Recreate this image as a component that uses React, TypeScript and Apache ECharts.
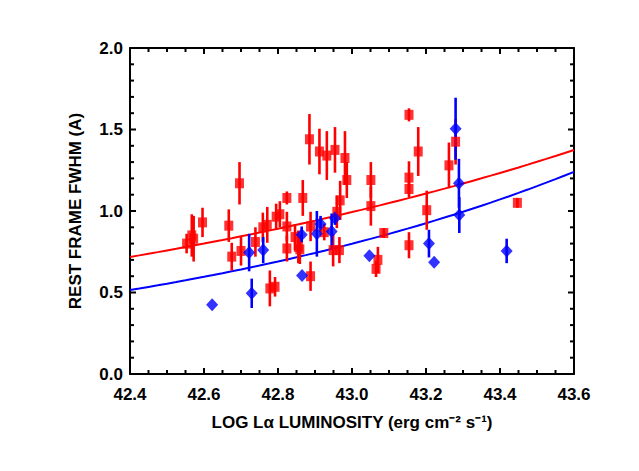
import React, { useEffect, useRef } from "react";
import * as echarts from "echarts";

// Red sample (squares): log L, FWHM, error
const redX = [42.553, 42.567, 42.572, 42.596, 42.667, 42.696, 42.675, 42.700, 42.739, 42.759, 42.771, 42.795, 42.805, 42.824, 42.824, 42.824, 42.778, 42.792, 42.846, 42.855, 42.859, 42.885, 42.912, 42.932, 42.954, 42.981, 42.986, 42.867, 42.968, 42.959, 42.888, 42.925, 42.949, 42.966, 42.888, 43.051, 43.051, 43.086, 43.070, 43.065, 43.154, 43.179, 43.154, 43.154, 43.202, 43.154, 43.262, 43.280, 43.447];
const redY = [0.80, 0.85, 0.83, 0.93, 0.91, 1.17, 0.72, 0.755, 0.81, 0.90, 0.915, 0.965, 0.98, 1.08, 0.905, 0.77, 0.525, 0.535, 0.84, 0.78, 0.765, 1.44, 1.365, 1.34, 1.375, 1.325, 1.19, 1.08, 1.065, 0.995, 0.905, 0.87, 0.76, 0.76, 0.60, 1.19, 1.03, 0.865, 0.70, 0.645, 1.59, 1.365, 1.205, 1.135, 1.005, 0.79, 1.28, 1.425, 1.05];
const redErr = [0.06, 0.13, 0.14, 0.09, 0.10, 0.13, 0.085, 0.09, 0.09, 0.09, 0.11, 0.08, 0.08, 0.04, 0.09, 0.08, 0.11, 0.06, 0.08, 0.10, 0.09, 0.155, 0.14, 0.15, 0.14, 0.165, 0.11, 0.11, 0.12, 0.10, 0.09, 0.05, 0.10, 0.08, 0.09, 0.11, 0.12, 0.03, 0.08, 0.05, 0.04, 0.15, 0.10, 0.05, 0.12, 0.08, 0.14, 0.14, 0.03];

// Blue sample (diamonds)
const blueX = [42.622, 42.722, 42.760, 42.729, 42.864, 42.865, 42.905, 42.915, 42.945, 42.954, 43.047, 43.208, 43.222, 43.280, 43.289, 43.290, 43.418];
const blueY = [0.425, 0.745, 0.76, 0.495, 0.855, 0.605, 0.86, 0.92, 0.875, 0.955, 0.725, 0.80, 0.685, 1.505, 1.17, 0.975, 0.755];
const blueErr = [0, 0.115, 0.08, 0.09, 0.05, 0, 0.14, 0.05, 0.11, 0.04, 0, 0.085, 0, 0.19, 0.15, 0.11, 0.075];

// Power-law fits: FWHM = A * 10^(k * (logL - 42.4))
const redFitA = 0.718;
const redFitK = 0.235;
const blueFitA = 0.515;
const blueFitK = 0.318;

const xTicks = ["42.4", "42.6", "42.8", "43.0", "43.2", "43.4", "43.6"];
const yTicks = ["0.0", "0.5", "1.0", "1.5", "2.0"];

const X_MIN = 42.4, X_MAX = 43.6, X_STEP = 0.2, X_MINOR = 4;
const Y_MIN = 0, Y_MAX = 2, Y_STEP = 0.5, Y_MINOR = 5;

const RED = "#ff0000";
const BLUE = "#0000ff";
const FONT = "Liberation Sans";

function fitCurve(A: number, k: number) {
  const pts: number[][] = [];
  for (let i = 0; i <= 48; i++) {
    const x = X_MIN + (i * (X_MAX - X_MIN)) / 48;
    pts.push([x, A * Math.pow(10, k * (x - X_MIN))]);
  }
  return pts;
}

function errSeries(xs: number[], ys: number[], es: number[], color: string) {
  return {
    type: "custom",
    silent: true,
    z: 3,
    data: xs.map((x, i) => [x, ys[i], es[i]]),
    renderItem: (params: any, api: any) => {
      const x = api.value(0);
      const y = api.value(1);
      const e = api.value(2);
      if (!e) return null;
      const p1 = api.coord([x, y - e]);
      const p2 = api.coord([x, y + e]);
      return {
        type: "line",
        shape: { x1: p1[0], y1: p1[1], x2: p2[0], y2: p2[1] },
        style: { stroke: color, lineWidth: 2.6 },
      };
    },
  };
}

const labelStyle = { color: "#000", fontFamily: FONT, fontSize: 17, fontWeight: "bold" as const };

export default function App() {
  const ref = useRef<HTMLDivElement>(null);
  useEffect(() => {
    if (!ref.current) return;
    const chart = echarts.init(ref.current, undefined, { renderer: "svg" });
    const axisLine = { show: true, onZero: false, lineStyle: { color: "#000", width: 2 } };
    chart.setOption({
      animation: false,
      backgroundColor: "#fff",
      grid: { left: 130, right: 65, top: 48, bottom: 97, containLabel: false },
      xAxis: [
        {
          type: "value",
          min: X_MIN,
          max: X_MAX,
          interval: X_STEP,
          position: "bottom",
          axisLine,
          splitLine: { show: false },
          axisTick: { show: false },
          axisLabel: {
            ...labelStyle,
            margin: 12,
            formatter: (v: number) => {
              const s = v.toFixed(1);
              return xTicks.includes(s) ? s : "";
            },
          },
          name: "LOG Lα LUMINOSITY (erg cm⁻² s⁻¹)",
          nameLocation: "middle",
          nameGap: 40,
          nameTextStyle: { ...labelStyle },
        },
        {
          type: "value",
          min: X_MIN,
          max: X_MAX,
          interval: X_STEP,
          position: "top",
          axisLine,
          splitLine: { show: false },
          axisTick: { show: false },
          axisLabel: { show: false },
        },
      ],
      yAxis: [
        {
          type: "value",
          min: Y_MIN,
          max: Y_MAX,
          interval: Y_STEP,
          position: "left",
          axisLine,
          splitLine: { show: false },
          axisTick: { show: false },
          axisLabel: {
            ...labelStyle,
            margin: 7,
            formatter: (v: number) => {
              const s = v.toFixed(1);
              return yTicks.includes(s) ? s : "";
            },
          },
          name: "REST FRAME FWHM (A)",
          nameLocation: "middle",
          nameGap: 46,
          nameRotate: 90,
          nameTextStyle: { ...labelStyle },
        },
        {
          type: "value",
          min: Y_MIN,
          max: Y_MAX,
          interval: Y_STEP,
          position: "right",
          axisLine,
          splitLine: { show: false },
          axisTick: { show: false },
          axisLabel: { show: false },
        },
      ],
      series: [
        {
          type: "line",
          data: fitCurve(redFitA, redFitK),
          showSymbol: false,
          symbol: "none",
          lineStyle: { color: RED, width: 2 },
          z: 2,
          silent: true,
        },
        {
          type: "line",
          data: fitCurve(blueFitA, blueFitK),
          showSymbol: false,
          symbol: "none",
          lineStyle: { color: BLUE, width: 2 },
          z: 2,
          silent: true,
        },
        errSeries(redX, redY, redErr, RED),
        {
          type: "scatter",
          data: redX.map((x, i) => [x, redY[i]]),
          symbol: "rect",
          symbolSize: [9, 10],
          itemStyle: { color: RED },
          z: 4,
        },
        errSeries(blueX, blueY, blueErr, BLUE),
        {
          type: "scatter",
          data: blueX.map((x, i) => [x, blueY[i]]),
          symbol: "diamond",
          symbolSize: [12, 13],
          itemStyle: { color: BLUE },
          z: 5,
        },
      ],
    });

    // Tick marks on all four sides, placed through the chart's own scales
    const toPx = (v: number[]) => chart.convertToPixel({ gridIndex: 0 } as any, v) as number[];
    const ticks: any[] = [];
    const style = { stroke: "#000", lineWidth: 2 };
    const nx = Math.round((X_MAX - X_MIN) / X_STEP) * X_MINOR;
    for (let i = 0; i <= nx; i++) {
      const x = X_MIN + (i * X_STEP) / X_MINOR;
      const len = i % X_MINOR === 0 ? 6 : 4;
      const b = toPx([x, Y_MIN]);
      const t = toPx([x, Y_MAX]);
      ticks.push({ type: "line", silent: true, z: 100, shape: { x1: b[0], y1: b[1], x2: b[0], y2: b[1] - len }, style: { ...style } });
      ticks.push({ type: "line", silent: true, z: 100, shape: { x1: t[0], y1: t[1], x2: t[0], y2: t[1] + len }, style: { ...style } });
    }
    const ny = Math.round((Y_MAX - Y_MIN) / Y_STEP) * Y_MINOR;
    for (let i = 0; i <= ny; i++) {
      const y = Y_MIN + (i * Y_STEP) / Y_MINOR;
      const len = i % Y_MINOR === 0 ? 6 : 4;
      const l = toPx([X_MIN, y]);
      const r = toPx([X_MAX, y]);
      ticks.push({ type: "line", silent: true, z: 100, shape: { x1: l[0], y1: l[1], x2: l[0] + len, y2: l[1] }, style: { ...style } });
      ticks.push({ type: "line", silent: true, z: 100, shape: { x1: r[0], y1: r[1], x2: r[0] - len, y2: r[1] }, style: { ...style } });
    }
    chart.setOption({ graphic: ticks });

    return () => chart.dispose();
  }, []);
  return <div ref={ref} style={{ width: 639, height: 471, position: "absolute", left: 0, top: 0 }} />;
}
